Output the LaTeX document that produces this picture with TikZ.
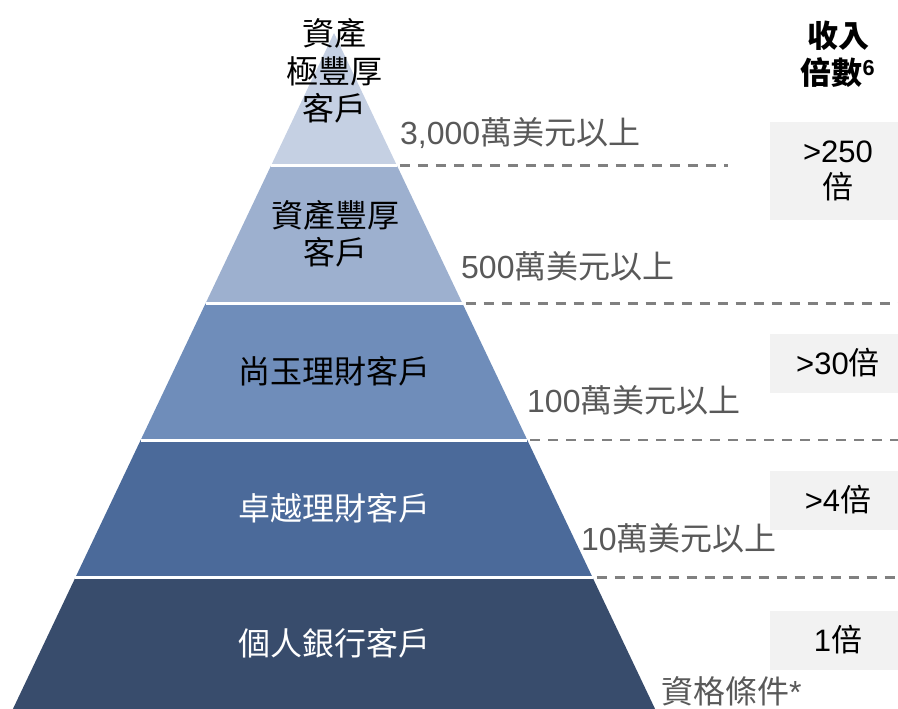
\documentclass[tikz,border=0pt]{standalone}
\usepackage{fontspec}
\setmainfont{Noto Sans CJK TC}
\newfontfamily\latfont{Liberation Sans}
\newcommand\digits[1]{{\latfont #1}}
\usetikzlibrary{calc}
\definecolor{tierA}{HTML}{C5D0E3}
\definecolor{tierB}{HTML}{9DB0CF}
\definecolor{tierC}{HTML}{6F8DBA}
\definecolor{tierD}{HTML}{4B6A9A}
\definecolor{tierE}{HTML}{384C6C}
\definecolor{labelgray}{HTML}{595959}
\definecolor{dashgray}{HTML}{808080}
\definecolor{boxgray}{HTML}{F2F2F2}
\tikzset{
  tier/.style={font=\fontsize{32}{37.5}\selectfont, align=center, inner sep=0pt},
  limit/.style={font=\fontsize{32}{37}\selectfont, text=labelgray, anchor=west, inner sep=0pt},
  multbox/.style={fill=boxgray, minimum width=136pt, font=\fontsize{31}{36}\selectfont, align=center, inner sep=0pt},
  cutline/.style={draw=dashgray, line width=2.5pt, dash pattern=on 10pt off 8pt},
  gap/.style={draw=white, line width=3pt}
}

\begin{document}
\begin{tikzpicture}[x=1pt,y=-1pt]
  \useasboundingbox (0,0) rectangle (898,709);
  % pyramid corners
  \coordinate (apex) at (334,33);
  \coordinate (L1) at (271.1,165.5);  \coordinate (R1) at (396.9,165.5);
  \coordinate (L2) at (205.5,303.5);  \coordinate (R2) at (462.5,303.5);
  \coordinate (L3) at (140.7,440);    \coordinate (R3) at (527.3,440);
  \coordinate (L4) at (75.4,577.5);   \coordinate (R4) at (592.6,577.5);
  \coordinate (L5) at (12.9,709);     \coordinate (R5) at (655.1,709);
  \fill[tierA] (apex) -- (R1) -- (L1) -- cycle;
  \fill[tierB] (L1) -- (R1) -- (R2) -- (L2) -- cycle;
  \fill[tierC] (L2) -- (R2) -- (R3) -- (L3) -- cycle;
  \fill[tierD] (L3) -- (R3) -- (R4) -- (L4) -- cycle;
  \fill[tierE] (L4) -- (R4) -- (R5) -- (L5) -- cycle;
  \draw[gap] (L1) -- (R1);
  \draw[gap] (L2) -- (R2);
  \draw[gap] (L3) -- (R3);
  \draw[gap] (L4) -- (R4);

  % tier names
  \node[tier] (uhnw) at (334,71) {資產\\極豐厚\\客戶};
  \node[tier] (hnw) at (335,233.5) {資產豐厚\\客戶};
  \node[tier] (premier) at (334,371.5) {尚玉理財客戶};
  \node[tier, text=white] (advance) at (334,508) {卓越理財客戶};
  \node[tier, text=white] (personal) at (334,643) {個人銀行客戶};

  % thresholds
  \coordinate (e1) at (728,165.5);
  \coordinate (e2) at (898,303.5);
  \coordinate (e3) at (898,440);
  \coordinate (e4) at (898,577.5);
  \draw[cutline] ($(R1)+(3,0)$) -- (e1);
  \draw[cutline] ($(R2)+(3,0)$) -- (e2);
  \draw[cutline] ($(R3)+(3,0)$) -- (e3);
  \draw[cutline] ($(R4)+(4,0)$) -- (e4);
  \node[limit] (t1) at (400,133) {\digits{3,000}萬美元以上};
  \node[limit] (t2) at (461,266) {\digits{500}萬美元以上};
  \node[limit] (t3) at (527,400) {\digits{100}萬美元以上};
  \node[limit] (t4) at (581,538) {\digits{10}萬美元以上};
  \node[limit] (t5) at (661,691) {資格條件\digits{*}};

  % income multiples
  \node[font=\fontsize{31}{37}\selectfont\bfseries, align=center, inner sep=0pt] (head) at (838,54)
    {收入\\倍數\textsuperscript{\digits{6}}};
  \node[multbox, minimum height=98pt] (m1) at (838,171) {\digits{>250}\\倍};
  \node[multbox, minimum height=59pt] (m2) at (838,363) {\digits{>30}倍};
  \node[multbox, minimum height=59pt] (m3) at (838,500) {\digits{>4}倍};
  \node[multbox, minimum height=59pt] (m4) at (838,640) {\digits{1}倍};
\end{tikzpicture}
\end{document}
